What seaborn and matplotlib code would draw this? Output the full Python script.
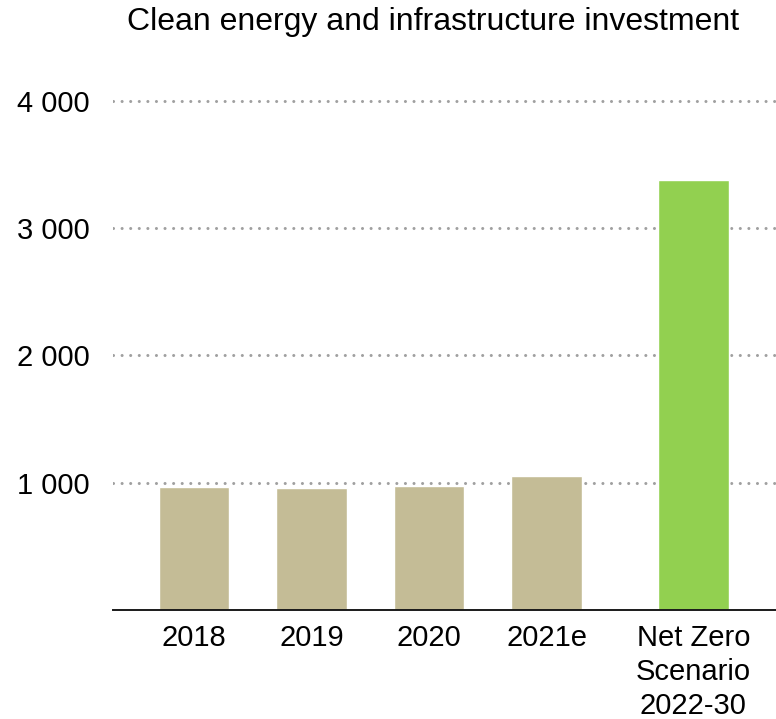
import matplotlib
matplotlib.use("Agg")
import matplotlib.pyplot as plt
import seaborn as sns
import pandas as pd

# values (billion USD)
categories = ["2018", "2019", "2020", "2021e", "Net Zero\nScenario\n2022-30"]
values = [966, 958, 974, 1053, 3380]
bar_colors = ["#C4BC96", "#C4BC96", "#C4BC96", "#C4BC96", "#92D050"]
yticks = [1000, 2000, 3000, 4000]
ytick_labels = ["1 000", "2 000", "3 000", "4 000"]

# extra space before the scenario bar
xpos = [0, 1, 2, 3, 4.25]

sns.set_style("white")
plt.rcParams["font.family"] = ["Liberation Sans", "DejaVu Sans"]
plt.rcParams["text.color"] = "black"
plt.rcParams["xtick.color"] = "black"
plt.rcParams["ytick.color"] = "black"

df = pd.DataFrame({"pos": xpos, "value": values, "cat": categories})

fig = plt.figure(figsize=(7.76, 7.19), dpi=100)
ax = fig.add_axes([113 / 776, 1 - 610 / 719, 1 - 113 / 776, (610 - 88) / 719])

sns.barplot(data=df, x="pos", y="value", hue="cat", palette=bar_colors,
            native_scale=True, width=0.6, legend=False, saturation=1,
            ax=ax, zorder=3)

ax.set_xlim(-0.69, 4.953)
ax.set_ylim(0, 4100)
ax.set_xticks(xpos)
ax.set_xticklabels(categories, fontsize=21, linespacing=1.27)
ax.set_yticks(yticks)
ax.set_yticklabels(ytick_labels, fontsize=21)
ax.tick_params(axis="both", length=0)
ax.tick_params(axis="y", pad=16.5)
ax.tick_params(axis="x", pad=10)
ax.set_xlabel("")
ax.set_ylabel("")

ax.yaxis.grid(True, color="#A0A0A0", linewidth=2.2, linestyle=(0, (0.01, 2.8)),
              dash_capstyle="round", zorder=0)
ax.set_axisbelow(True)

for s in ["top", "right", "left"]:
    ax.spines[s].set_visible(False)
ax.spines["bottom"].set_color("#1a1a1a")
ax.spines["bottom"].set_linewidth(1.4)
ax.spines["bottom"].set_zorder(4)

fig.text(433 / 776, 1 - 22 / 719, "Clean energy and infrastructure investment",
         ha="center", va="center", fontsize=23)

fig.savefig("out.png", dpi=100)
